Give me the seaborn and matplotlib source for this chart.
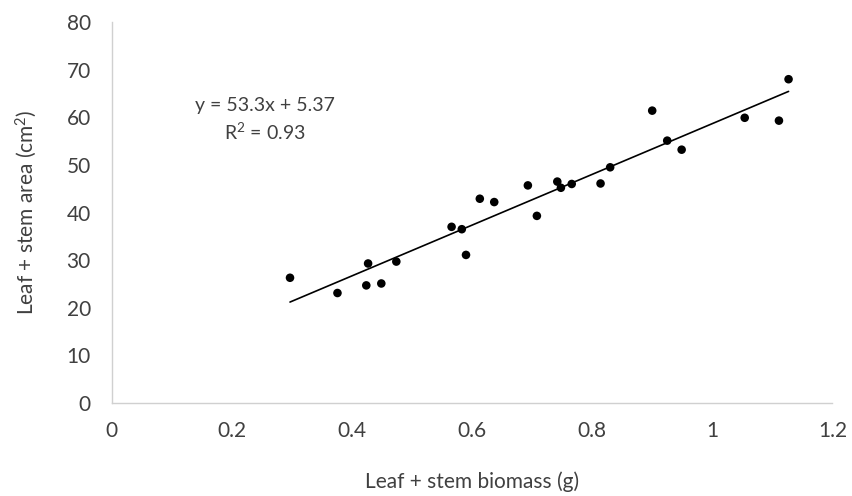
import numpy as np
import pandas as pd
import matplotlib
matplotlib.use("Agg")
import matplotlib.pyplot as plt
import seaborn as sns

# Data
biomass = [0.297, 0.376, 0.424, 0.427, 0.449, 0.474, 0.566, 0.583, 0.590, 0.613,
           0.637, 0.693, 0.708, 0.742, 0.748, 0.766, 0.814, 0.830, 0.900, 0.925,
           0.949, 1.054, 1.111, 1.127]
area = [26.3, 23.1, 24.7, 29.3, 25.1, 29.7, 37.0, 36.5, 31.1, 42.9,
        42.2, 45.7, 39.3, 46.5, 45.2, 46.0, 46.1, 49.5, 61.4, 55.1,
        53.2, 59.9, 59.3, 68.0]
slope = 53.3
intercept = 5.37
r2 = 0.93
x_ticks = [0, 0.2, 0.4, 0.6, 0.8, 1, 1.2]
x_tick_labels = ["0", "0.2", "0.4", "0.6", "0.8", "1", "1.2"]
y_ticks = [0, 10, 20, 30, 40, 50, 60, 70, 80]

df = pd.DataFrame({"biomass": biomass, "area": area})

sns.set_theme(style="white")
plt.rcParams['font.family'] = ['Lato', 'DejaVu Sans']
plt.rcParams['mathtext.fontset'] = 'custom'
plt.rcParams['mathtext.rm'] = 'Lato'

txt = "#404040"

fig = plt.figure(figsize=(8.52, 4.96), dpi=100)
ax = fig.add_axes([0.131, 0.1875, 0.846, 0.768])

xs = np.array([min(biomass), max(biomass)])
fit = pd.DataFrame({"x": xs, "y": slope * xs + intercept})
sns.lineplot(data=fit, x="x", y="y", ax=ax, color="black", linewidth=1.2)
sns.scatterplot(data=df, x="biomass", y="area", ax=ax, color="black",
                s=38, edgecolor="none", zorder=3)

ax.set_xlim(0, 1.2)
ax.set_ylim(0, 80)
ax.set_xticks(x_ticks)
ax.set_xticklabels(x_tick_labels)
ax.set_yticks(y_ticks)
ax.tick_params(axis="both", length=0, labelsize=15, colors=txt)
ax.tick_params(axis="x", pad=13)
ax.tick_params(axis="y", pad=15)

for side in ["top", "right"]:
    ax.spines[side].set_visible(False)
for side in ["left", "bottom"]:
    ax.spines[side].set_color("#d0d0d0")
    ax.spines[side].set_linewidth(1.0)

ax.set_xlabel("Leaf + stem biomass (g)", fontsize=15, color=txt, labelpad=22)
ax.set_ylabel("Leaf + stem area (cm$\\mathregular{^2}$)", fontsize=15, color=txt, labelpad=20)

ax.text(0.255, 62.4, f"y = {slope}x + {intercept}", ha="center", va="center",
        fontsize=14, color=txt)
ax.text(0.255, 56.9, "R$\\mathregular{^2}$" + f" = {r2}", ha="center", va="center",
        fontsize=14, color=txt)

fig.savefig("out.png", dpi=100, facecolor="white")
